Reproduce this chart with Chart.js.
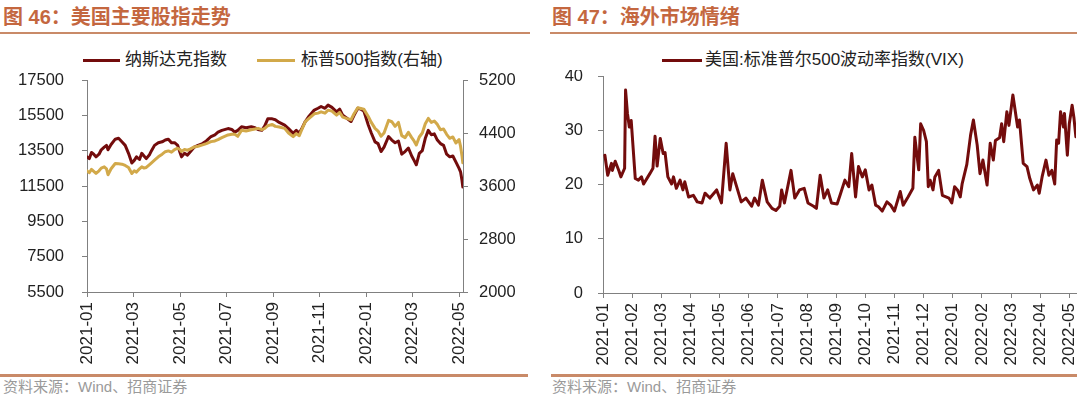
<!DOCTYPE html>
<html><head><meta charset="utf-8">
<script src="https://cdn.jsdelivr.net/npm/chart.js@4.4.1/dist/chart.umd.min.js"></script>
<style>
html,body{margin:0;padding:0;background:#fff;width:1080px;height:399px;overflow:hidden;position:relative}
.title{position:absolute;top:4px;font-weight:bold;font-size:20px;font-family:"Liberation Sans","Noto Sans CJK SC",sans-serif;color:#C4673F;white-space:nowrap;line-height:26px}
.rule{position:absolute;height:2px;background:#C98A68}
.src{position:absolute;top:377px;font-size:15px;font-family:"Liberation Sans","Noto Sans CJK SC",sans-serif;color:#9a9a9a;line-height:20px;white-space:nowrap}
.leg{position:absolute;top:49px;font-size:17px;font-family:"Liberation Sans","Noto Sans CJK SC",sans-serif;color:#222;line-height:22px;white-space:nowrap}
.sw{position:absolute;height:3px}
canvas{position:absolute}
</style></head>
<body>
<div class="title" style="left:3px">图 46：美国主要股指走势</div>
<div class="rule" style="left:0;top:32px;width:530px"></div>
<div class="title" style="left:552px">图 47：海外市场情绪</div>
<div class="rule" style="left:550px;top:32px;width:527px"></div>

<div class="sw" style="left:83px;top:59px;width:37px;background:#730C0C"></div>
<div class="leg" style="left:125px">纳斯达克指数</div>
<div class="sw" style="left:257px;top:59px;width:38px;background:#D2A94A"></div>
<div class="leg" style="left:301px">标普500指数(右轴)</div>
<div class="sw" style="left:662px;top:59px;width:40px;background:#730C0C"></div>
<div class="leg" style="left:705px">美国:标准普尔500波动率指数(VIX)</div>

<canvas id="c1" width="540" height="300" style="left:0;top:70px;width:540px;height:300px"></canvas>
<canvas id="c2" width="540" height="300" style="left:540px;top:70px;width:540px;height:300px"></canvas>

<div class="rule" style="left:0;top:374px;width:528px;height:3px"></div>
<div class="rule" style="left:551px;top:374px;width:526px;height:3px"></div>
<div class="src" style="left:3px">资料来源：Wind、招商证券</div>
<div class="src" style="left:552px">资料来源：Wind、招商证券</div>

<script>
const monthLabels = ['2021-01','2021-02','2021-03','2021-04','2021-05','2021-06','2021-07','2021-08','2021-09','2021-10','2021-11','2021-12','2022-01','2022-02','2022-03','2022-04','2022-05'];
const leftXTicks = [0,2,4,6,8,10,12,14,16];
const rightXTicks = [0,1,2,3,4,5,6,7,8,9,10,11,12,13,14,15,16];
const nasdaqTicks = [5500,7500,9500,11500,13500,15500,17500];
const spTicks = [2000,2800,3600,4400,5200];
const vixTicks = [0,10,20,30,40];

const leftDates = ['2021-01-01','2021-01-04','2021-01-07','2021-01-10','2021-01-13','2021-01-17','2021-01-20','2021-01-24','2021-01-27','2021-01-29',
'2021-02-02','2021-02-07','2021-02-11','2021-02-15','2021-02-19','2021-02-23','2021-02-27','2021-03-02','2021-03-05','2021-03-09',
'2021-03-12','2021-03-15','2021-03-18','2021-03-22','2021-03-25','2021-03-29','2021-04-03','2021-04-08','2021-04-12','2021-04-16',
'2021-04-20','2021-04-24','2021-04-28','2021-05-01','2021-05-03','2021-05-07','2021-05-11','2021-05-15','2021-05-20','2021-05-25',
'2021-05-31','2021-06-05','2021-06-11','2021-06-16','2021-06-20','2021-06-25','2021-07-03','2021-07-08','2021-07-12','2021-07-16',
'2021-07-21','2021-07-27','2021-08-03','2021-08-08','2021-08-12','2021-08-17','2021-08-21','2021-08-25','2021-08-31','2021-09-04',
'2021-09-09','2021-09-16','2021-09-21','2021-09-27','2021-10-01','2021-10-05','2021-10-09','2021-10-13','2021-10-18','2021-10-25',
'2021-10-30','2021-11-03','2021-11-08','2021-11-12','2021-11-17','2021-11-23','2021-11-27','2021-12-01','2021-12-06','2021-12-12',
'2021-12-16','2021-12-21','2021-12-25','2021-12-29','2022-01-04','2022-01-08','2022-01-13','2022-01-17','2022-01-21','2022-01-25',
'2022-01-31','2022-02-04','2022-02-08','2022-02-12','2022-02-16','2022-02-20','2022-02-24','2022-02-28','2022-03-03','2022-03-06',
'2022-03-10','2022-03-14','2022-03-18','2022-03-22','2022-03-26','2022-03-30','2022-04-03','2022-04-07','2022-04-11','2022-04-15',
'2022-04-19','2022-04-23','2022-04-27','2022-05-01','2022-05-03','2022-05-05','2022-05-06'];
const nasdaq = [13150,13050,13400,13300,13150,13300,13550,13700,13800,13550,
13850,14150,14200,14000,13800,13350,12800,12950,13150,13000,
13350,13200,13050,13250,13500,13800,13950,14000,14100,14150,
13950,13950,13800,13400,13150,13350,13250,13450,13700,13800,
13900,14050,14300,14400,14550,14650,14750,14700,14550,14650,
14850,14800,14850,14800,14700,14650,14900,15300,15300,15250,
15100,14950,14750,14480,14650,14500,14800,15150,15450,15800,
15900,16000,15900,16080,15950,15700,15850,15500,15350,15150,
15500,15900,15850,15750,14950,14500,14000,13900,13450,13700,
14300,14100,13950,14050,13300,13450,13650,13200,12950,12700,
13350,13500,14200,14650,14400,14450,14100,13900,13800,13300,
13150,13200,12850,12500,12300,11800,11450];
const sp500 = [3830,3800,3850,3820,3790,3830,3870,3890,3860,3770,
3860,3940,3935,3930,3910,3880,3790,3830,3810,3860,
3890,3870,3880,3920,3950,3990,4040,4080,4118,4130,
4110,4150,4170,4150,4120,4150,4140,4160,4190,4200,
4220,4240,4270,4280,4300,4330,4370,4380,4380,4350,
4440,4430,4450,4460,4470,4450,4470,4510,4530,4500,
4490,4470,4400,4345,4390,4360,4470,4570,4620,4690,
4700,4720,4700,4745,4730,4670,4710,4640,4620,4600,
4690,4780,4770,4760,4650,4560,4470,4430,4350,4400,
4590,4570,4500,4560,4360,4330,4410,4330,4280,4220,
4340,4400,4540,4620,4560,4580,4530,4450,4460,4380,
4320,4340,4250,4300,4200,4050,3950];

const vixDates = ['2021-01-03','2021-01-06','2021-01-10','2021-01-11','2021-01-14','2021-01-18','2021-01-20','2021-01-24','2021-01-25','2021-01-27',
'2021-01-29','2021-01-31','2021-02-04','2021-02-07','2021-02-10','2021-02-12','2021-02-18','2021-02-21','2021-02-23','2021-02-25',
'2021-02-28','2021-03-03','2021-03-05','2021-03-08','2021-03-12','2021-03-14','2021-03-17','2021-03-21','2021-03-24','2021-03-26',
'2021-03-30','2021-04-04','2021-04-08','2021-04-13','2021-04-16','2021-04-21','2021-04-28','2021-05-03','2021-05-08','2021-05-12',
'2021-05-15','2021-05-19','2021-05-24','2021-05-29','2021-06-04','2021-06-07','2021-06-11','2021-06-15','2021-06-20','2021-06-25',
'2021-06-29','2021-07-03','2021-07-05','2021-07-08','2021-07-15','2021-07-19','2021-07-24','2021-07-29','2021-08-02','2021-08-08',
'2021-08-11','2021-08-15','2021-08-19','2021-08-23','2021-08-27','2021-09-02','2021-09-05','2021-09-10','2021-09-14','2021-09-17',
'2021-09-21','2021-09-24','2021-09-28','2021-10-01','2021-10-05','2021-10-08','2021-10-12','2021-10-15','2021-10-19','2021-10-24',
'2021-10-28','2021-11-01','2021-11-07','2021-11-10','2021-11-15','2021-11-20','2021-11-22','2021-11-26','2021-11-28','2021-12-01',
'2021-12-04','2021-12-06','2021-12-08','2021-12-11','2021-12-13','2021-12-17','2021-12-21','2021-12-28','2021-12-31','2022-01-03',
'2022-01-06','2022-01-09','2022-01-11','2022-01-16','2022-01-20','2022-01-23','2022-01-27','2022-01-30','2022-02-02','2022-02-06',
'2022-02-09','2022-02-12','2022-02-14','2022-02-18','2022-02-20','2022-02-22','2022-02-25','2022-02-27','2022-03-03','2022-03-08',
'2022-03-10','2022-03-14','2022-03-18','2022-03-21','2022-03-25','2022-03-29','2022-03-31','2022-04-03','2022-04-07','2022-04-10',
'2022-04-13','2022-04-16','2022-04-18','2022-04-20','2022-04-22','2022-04-25','2022-04-26','2022-04-29','2022-05-01','2022-05-04',
'2022-05-06','2022-05-08'];
const vix = [25.4,21.7,23.9,22.6,24.3,22.5,21.4,23.0,37.4,33.1,
30.6,31.8,21.1,20.8,21.4,20.1,22.0,23.0,28.9,23.4,
28.5,25.7,25.9,21.4,20.1,21.4,19.3,20.8,19.0,20.5,
17.7,18.0,16.8,16.6,18.4,17.5,19.0,16.6,27.6,19.0,
22.0,19.7,16.8,17.5,16.0,17.5,16.2,20.8,16.8,15.6,
15.2,16.0,19.0,16.6,22.6,17.5,19.0,19.3,16.6,16.0,
15.6,21.7,17.5,19.0,16.6,16.4,18.0,20.8,19.6,25.7,
17.7,23.3,21.4,22.7,19.0,19.9,16.2,15.9,15.1,16.8,
16.2,15.1,18.7,16.2,17.7,19.3,28.7,22.7,31.2,30.0,
27.9,19.6,20.8,19.0,21.4,22.6,18.0,17.5,16.6,19.6,
19.0,17.7,20.1,23.7,29.1,31.9,27.3,22.0,24.5,19.9,
27.6,24.5,28.1,28.6,31.2,27.9,33.4,30.9,36.5,30.6,
31.9,23.9,23.3,21.1,19.0,19.9,18.4,21.4,24.5,21.7,
22.6,20.1,28.2,27.6,33.4,30.6,33.1,25.4,31.2,34.6,
32.2,28.8];

function monthPos(d){
  const [y,m,dd] = d.split('-').map(Number);
  const dim = new Date(y, m, 0).getDate();
  return (y-2021)*12 + (m-1) + (dd-1)/dim;
}
function pts(dates, vals){ return dates.map((d,i)=>({x:monthPos(d), y:vals[i]})); }

const RED = '#730C0C', GOLD = '#D2A94A', AXIS = '#808080', TXT = '#222';
const FONT = '"Liberation Sans", Arial, sans-serif';

function fixW(w){ return s => { s.width = w; s.paddingTop=0; s.paddingBottom=0; s.paddingLeft=0; s.paddingRight=0; }; }
function fixH(h){ return s => { s.height = h; s.paddingTop=0; s.paddingBottom=0; s.paddingLeft=0; s.paddingRight=0; }; }
function setTicks(arr){ return s => { s.ticks = arr.map(v=>({value:v})); }; }

function xAxis(ticksArr, max, h){
  return { type:'linear', position:'bottom', min:0, max:max,
    afterBuildTicks:setTicks(ticksArr), afterFit:fixH(h),
    ticks:{autoSkip:false, minRotation:90, maxRotation:90, padding:5, color:TXT, font:{family:FONT,size:17}, callback:v=>monthLabels[v]},
    grid:{drawOnChartArea:false, drawTicks:true, tickLength:5, color:AXIS},
    border:{display:true, color:AXIS, width:1}};
}
function yAxis(pos, ticksArr, min, max, w, pad){
  return { type:'linear', position:pos, min:min, max:max,
    afterBuildTicks:setTicks(ticksArr), afterFit:fixW(w),
    ticks:{padding:pad, color:TXT, font:{family:FONT,size:16.5}, callback:v=>String(v)},
    grid:{drawOnChartArea:false, drawTicks:true, tickLength:5, color:AXIS},
    border:{display:true, color:AXIS, width:1}};
}

const common = {responsive:false, animation:false, devicePixelRatio:1,
  plugins:{legend:{display:false}, tooltip:{enabled:false}},
  elements:{point:{radius:0}, line:{tension:0, borderWidth:3, borderJoinStyle:'round', borderCapStyle:'round'}}};

new Chart(document.getElementById('c1'), {
  type:'line',
  data:{datasets:[
    {label:'纳斯达克指数', data:pts(leftDates, nasdaq), borderColor:RED, yAxisID:'y', order:1},
    {label:'标普500指数(右轴)', data:pts(leftDates, sp500), borderColor:GOLD, yAxisID:'y1', order:0}
  ]},
  options:Object.assign({}, common, {
    layout:{padding:{top:10, left:0, right:0, bottom:0}},
    scales:{
      x:xAxis(leftXTicks, 16.17, 78),
      y:yAxis('left', nasdaqTicks, 5500, 17500, 87, 18),
      y1:yAxis('right', spTicks, 2000, 5200, 77, 11)
    }
  })
});

new Chart(document.getElementById('c2'), {
  type:'line',
  data:{datasets:[
    {label:'美国:标准普尔500波动率指数(VIX)', data:pts(vixDates, vix), borderColor:RED, yAxisID:'y'}
  ]},
  options:Object.assign({}, common, {
    layout:{padding:{top:6, left:0, right:4, bottom:0}},
    scales:{
      x:xAxis(rightXTicks, 16.23, 77),
      y:yAxis('left', vixTicks, 0, 40, 63, 15)
    }
  })
});
</script>
</body></html>
